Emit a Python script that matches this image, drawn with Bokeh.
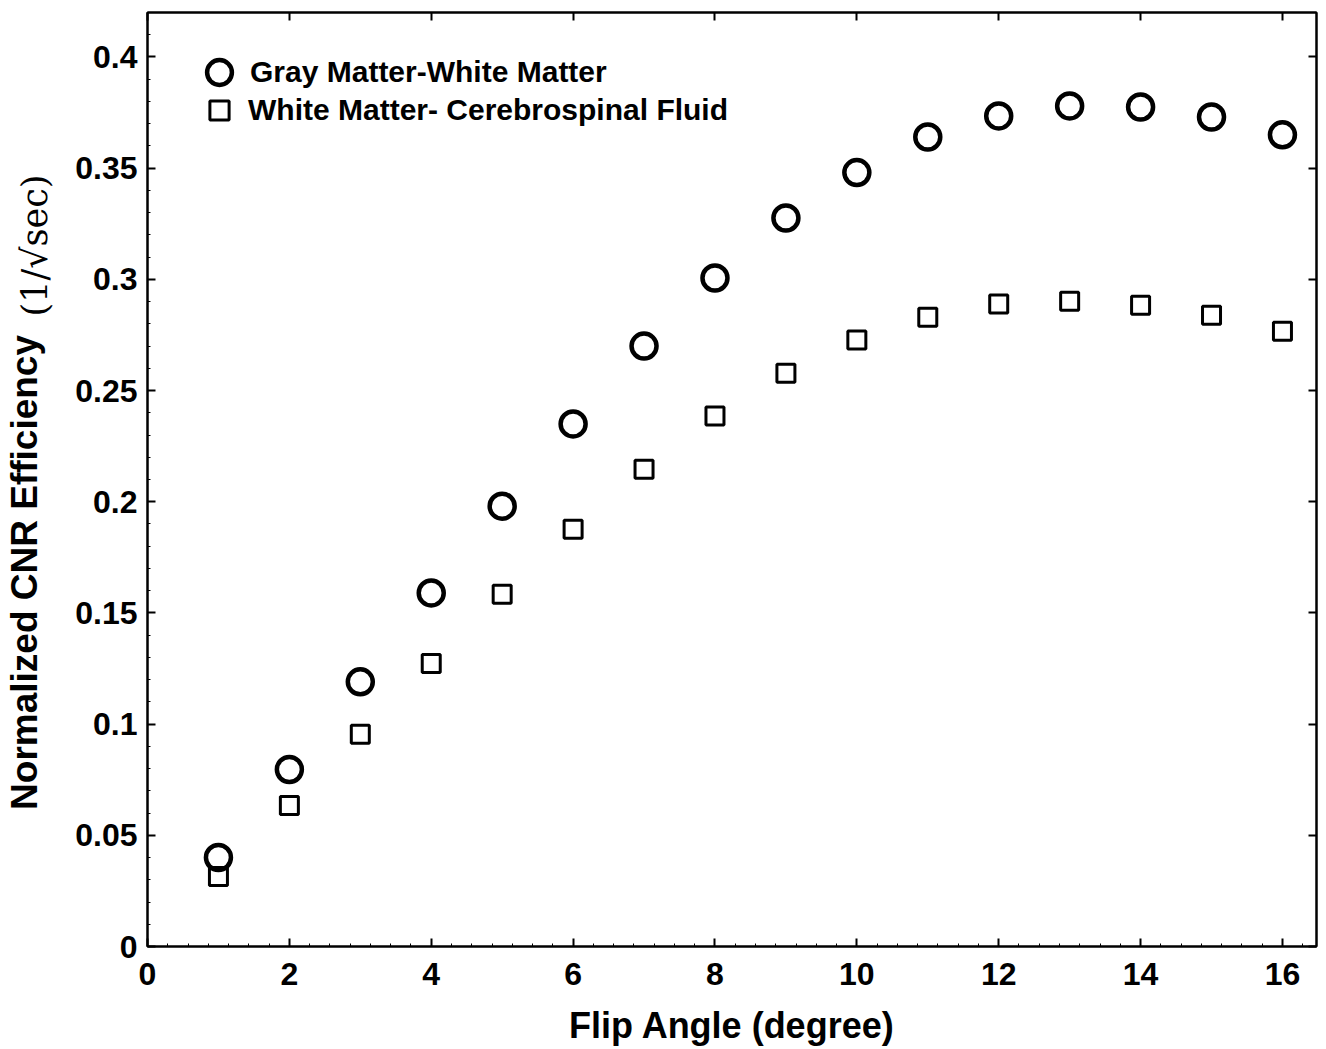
import math

from bokeh.plotting import figure
from bokeh.models import (Range1d, LinearAxis, SingleIntervalTicker, FixedTicker,
                          Legend, LegendItem)
from bokeh.embed import file_html
from bokeh.resources import INLINE

# Flip angle sweep (degrees)
flip_angle = [1, 2, 3, 4, 5, 6, 7, 8, 9, 10, 11, 12, 13, 14, 15, 16]

# Normalized CNR efficiency (1/sqrt(sec))
gm_wm = [0.040, 0.0796, 0.119, 0.159, 0.198, 0.235, 0.270, 0.3006,
         0.3276, 0.348, 0.364, 0.3735, 0.378, 0.3775, 0.373, 0.365]
wm_csf = [0.0315, 0.0634, 0.0954, 0.1273, 0.1584, 0.1876, 0.2146, 0.2385,
          0.2578, 0.2727, 0.283, 0.2889, 0.2902, 0.2884, 0.2839, 0.2767]

# tick positions
x_ticks = [0, 2, 4, 6, 8, 10, 12, 14, 16]
y_ticks = [0, 0.05, 0.1, 0.15, 0.2, 0.25, 0.3, 0.35, 0.4]

series_labels = ["Gray Matter-White Matter", "White Matter- Cerebrospinal Fluid"]
x_title = "Flip Angle (degree)"
y_title = "Normalized CNR Efficiency"
y_unit = "(1/\u221Asec)"

FONT = "Liberation Sans"

p = figure(width=1326, height=1049, x_range=Range1d(0, 16.48),
           y_range=Range1d(0, 0.42), output_backend="svg",
           toolbar_location=None, min_border_left=147, min_border_right=10,
           min_border_top=12, min_border_bottom=103)

p.xgrid.visible = False
p.ygrid.visible = False
p.outline_line_color = "black"
p.outline_line_width = 2


def style_axis(ax):
    ax.axis_line_width = 2
    ax.axis_line_color = "black"
    ax.major_tick_in = 8
    ax.major_tick_out = 0
    ax.major_tick_line_width = 2
    ax.minor_tick_in = 3
    ax.minor_tick_out = 0
    ax.minor_tick_line_width = 1
    ax.major_label_text_font = FONT
    ax.major_label_text_font_style = "bold"
    ax.major_label_text_font_size = "32px"
    ax.major_label_text_color = "black"


xa = p.xaxis[0]
style_axis(xa)
xa.ticker = SingleIntervalTicker(interval=2, num_minor_ticks=7)
xa.major_label_standoff = 16
xa.axis_label = x_title
xa.axis_label_text_font = FONT
xa.axis_label_text_font_style = "bold"
xa.axis_label_text_font_size = "36px"
xa.axis_label_text_color = "black"
xa.axis_label_standoff = 17

ya = p.yaxis[0]
style_axis(ya)
ya.ticker = SingleIntervalTicker(interval=0.05, num_minor_ticks=5)
ya.major_label_standoff = 10

# box axes on top and right: tick marks only, no labels
for ticks, side in ((x_ticks, "above"), (y_ticks, "right")):
    ax = LinearAxis(ticker=FixedTicker(ticks=[], minor_ticks=ticks))
    ax.axis_line_width = 2
    ax.minor_tick_in = 8
    ax.minor_tick_out = 0
    ax.minor_tick_line_width = 2
    ax.major_tick_in = 0
    ax.major_tick_out = 0
    p.add_layout(ax, side)


def text_axis(pos, text, font, size, style, standoff):
    """A bare left axis whose single tick label is a piece of the y title."""
    return LinearAxis(ticker=FixedTicker(ticks=[pos]),
                      major_label_overrides={pos: text},
                      major_label_orientation="vertical",
                      major_label_text_font=font,
                      major_label_text_font_size=size,
                      major_label_text_font_style=style,
                      major_label_text_color="black",
                      major_label_standoff=standoff,
                      axis_line_color=None,
                      major_tick_in=0, major_tick_out=0,
                      minor_tick_line_color=None)


# the words of the y title, then the unit above them in the same column
p.add_layout(text_axis(0.1682, y_title, FONT, "37px", "bold", 27), "left")
p.add_layout(text_axis(0.3152, y_unit, "DejaVu Serif", "35px", "normal", -54),
             "left")

r1 = p.scatter(flip_angle, gm_wm, marker="circle", size=25,
               fill_color=None, line_color="black", line_width=4.5)
r2 = p.scatter(flip_angle, wm_csf, marker="square", size=18,
               fill_color=None, line_color="black", line_width=3)

legend_style = dict(padding=0, margin=0, border_line_color=None,
                    background_fill_alpha=0, label_text_font=FONT,
                    label_text_font_style="bold", label_text_font_size="30px",
                    label_text_color="black")
p.add_layout(Legend(items=[LegendItem(label=series_labels[0], renderers=[r1])],
                    location=(41, 843), glyph_width=62, glyph_height=62,
                    label_standoff=0, **legend_style))
p.add_layout(Legend(items=[LegendItem(label=series_labels[1], renderers=[r2])],
                    location=(48, 812), glyph_width=48, glyph_height=48,
                    label_standoff=5, **legend_style))

open("out.html", "w").write(file_html(p, INLINE))
